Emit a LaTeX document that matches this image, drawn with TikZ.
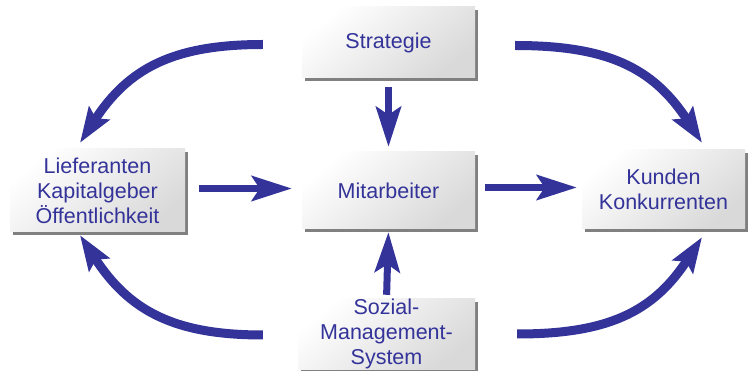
\documentclass[tikz,border=0pt]{standalone}
\usepackage{fontspec}
\setmainfont{Liberation Sans}
\usetikzlibrary{arrows.meta}
\usetikzlibrary{shadows}
\definecolor{navy}{HTML}{333399}

\begin{document}
\begin{tikzpicture}[x=1pt,y=1pt,
		main/.style = {draw=none, rectangle, inner sep=0pt, align=center,
			top color=white, bottom color=black!15, shading angle=40,
			drop shadow={shadow xshift=3pt, shadow yshift=-3pt, fill=black!50, opacity=1},
			text=navy, font=\fontsize{21.5}{25}\selectfont},
		flow/.style = {navy, line width=7pt, -{Stealth[length=40pt,width=25pt,inset=8pt]}},
		cycle/.style = {navy, line width=9pt, -{Stealth[length=35pt,width=24pt,inset=6pt]}}]
				\useasboundingbox (0,0) rectangle (748,-371);
				\begin{scope}[every node/.style={main}]
					\node[minimum width=173pt, minimum height=71pt] (strat) at (388.5,-42.5) {Strategie};
					\node[minimum width=173pt, minimum height=77pt] (mit) at (388.5,-190.5) {Mitarbeiter};
					\node[minimum width=175pt, minimum height=83pt] (lief) at (97.5,-190.5) {Lieferanten\\Kapitalgeber\\Öffentlichkeit};
					\node[minimum width=163pt, minimum height=79pt] (kund) at (663.5,-189.5) {Kunden\\Konkurrenten};
					\node[minimum width=177pt, minimum height=68pt] (soz) at (386.5,-334) {Sozial-\\Management-\\System};
				\end{scope}
				\draw [flow, shorten <=14pt, shorten >=10pt] ([yshift=2pt]lief.east) -- ([yshift=2pt]mit.west);
				\draw [flow, shorten <=10pt, shorten >=5pt] ([yshift=3pt]mit.east) -- ([yshift=2pt]kund.west);
				\draw [flow, shorten <=9pt, shorten >=5pt] (strat.south) -- (mit.north);
				\draw [flow, shorten <=4pt, shorten >=3pt] (soz.north) -- (mit.south);
				\draw [cycle] ([xshift=-39pt,yshift=-2pt]strat.west) to [out=180,in=57,looseness=1.1] ([xshift=-17.5pt,yshift=6pt]lief.north);
				\draw [cycle] ([xshift=40pt,yshift=-3pt]strat.east) to [out=0,in=123,looseness=1.1] ([xshift=38.5pt,yshift=7pt]kund.north);
				\draw [cycle] ([xshift=-35pt,yshift=-1pt]soz.west) to [out=180,in=-57,looseness=1.1] ([xshift=-17.5pt,yshift=-3pt]lief.south);
				\draw [cycle] ([xshift=42pt]soz.east) to [out=0,in=237,looseness=1.1] ([xshift=38.5pt,yshift=-8pt]kund.south);
			\end{tikzpicture}
\end{document}
